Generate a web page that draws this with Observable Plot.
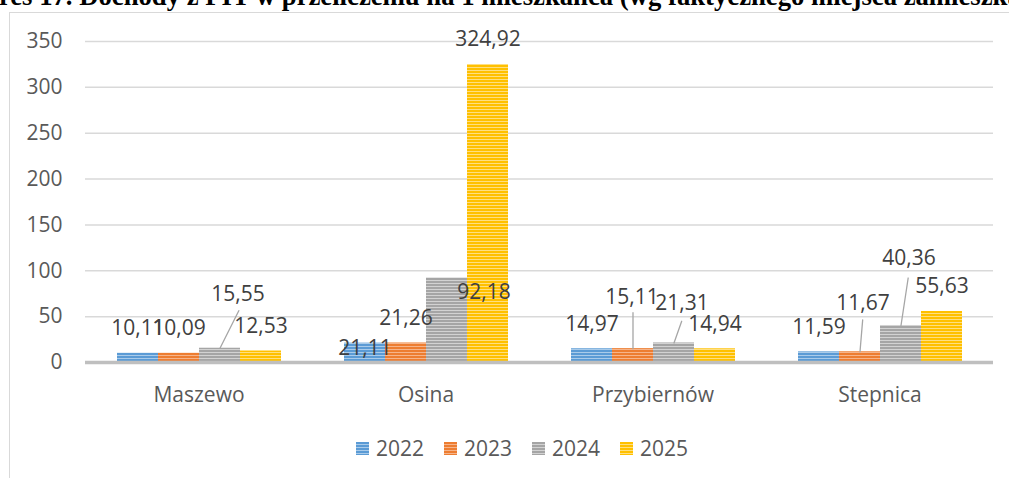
<!DOCTYPE html>
<html>
<head>
<meta charset="utf-8">
<script src="https://cdn.jsdelivr.net/npm/d3@7"></script>
<script src="https://cdn.jsdelivr.net/npm/@observablehq/plot@0.6"></script>
<style>
  html, body { margin: 0; padding: 0; background: #fff; }
  body { position: relative; width: 1009px; height: 478px; overflow: hidden; font-family: "Open Sans", sans-serif; }
  #titleClip { position: absolute; left: 0; top: 0; width: 1009px; height: 12px; overflow: hidden; }
  #title { position: absolute; left: -55px; top: -17px; line-height: 26px; white-space: nowrap;
           font-family: "Liberation Serif", serif; font-weight: bold; font-size: 26.7px; color: #000; }
  #frame { position: absolute; left: 9px; top: 12px; width: 1100px; height: 600px; border: 1.5px solid #d9d9d9; box-sizing: border-box; }
  #chart { position: absolute; left: 0; top: 14px; }
  #legend { position: absolute; left: 356px; top: 434px; display: flex; align-items: center; font-size: 21px; color: #595959; }
  .item { display: flex; align-items: center; margin-right: 20px; }
  .sw { width: 13px; height: 13px; margin-right: 7px; }
</style>
</head>
<body>
<svg width="0" height="0" style="position:absolute">
  <defs>
    <pattern id="p2022" width="4" height="3" patternUnits="userSpaceOnUse"><rect width="4" height="3" fill="#5b9bd5"/><rect y="2" width="4" height="1" fill="#a9cbea"/></pattern>
    <pattern id="p2023" width="4" height="3" patternUnits="userSpaceOnUse"><rect width="4" height="3" fill="#ed7d31"/><rect y="2" width="4" height="1" fill="#f6b48a"/></pattern>
    <pattern id="p2024" width="4" height="3" patternUnits="userSpaceOnUse"><rect width="4" height="3" fill="#a5a5a5"/><rect y="2" width="4" height="1" fill="#d2d2d2"/></pattern>
    <pattern id="p2025" width="4" height="3" patternUnits="userSpaceOnUse"><rect width="4" height="3" fill="#ffc000"/><rect y="2" width="4" height="1" fill="#ffdf80"/></pattern>
  </defs>
</svg>
<div id="titleClip"><div id="title">Wykres 17. Dochody z PIT w przeliczeniu na 1 mieszkańca (wg faktycznego miejsca zamieszkania)</div></div>
<div id="frame"></div>
<div id="chart"></div>
<div id="legend"></div>
<script>
// ---- data ----
const categories = ["Maszewo", "Osina", "Przybiernów", "Stepnica"];
const years = ["2022", "2023", "2024", "2025"];
const v2022 = [10.11, 21.11, 14.97, 11.59];
const v2023 = [10.09, 21.26, 15.11, 11.67];
const v2024 = [15.55, 92.18, 21.31, 40.36];
const v2025 = [12.53, 324.92, 14.94, 55.63];
const yTicks = [0, 50, 100, 150, 200, 250, 300, 350];

// ---- build table ----
const series = {"2022": v2022, "2023": v2023, "2024": v2024, "2025": v2025};
const rows = [];
categories.forEach((c, i) => years.forEach(y => rows.push({cat: c, year: y, value: series[y][i]})));

const baseColors = {"2022": "#5b9bd5", "2023": "#ed7d31", "2024": "#a5a5a5", "2025": "#ffc000"};
const lightColors = {"2022": "#a9cbea", "2023": "#f6b48a", "2024": "#d2d2d2", "2025": "#ffdf80"};

// label placement (manual Excel-like positioning), pixels
const labelNudge = {
  "Maszewo 2024": [18, -54],
  "Osina 2022": [0, 5],
  "Osina 2024": [37, 14],
  "Przybiernów 2023": [-1, -51],
  "Przybiernów 2024": [8, -40],
  "Stepnica 2023": [3, -49],
  "Stepnica 2024": [8, -67]
};
const leaders = {
  "Maszewo 2024": [42, 26.6],
  "Przybiernów 2023": [36, 0],
  "Przybiernów 2024": [23, 19.5],
  "Stepnica 2023": [32, 4.8],
  "Stepnica 2024": [48, 8.6]
};
const fmt = v => v.toFixed(2).replace(".", ",");

const marks = [
  Plot.ruleY(yTicks.filter(d => d > 0), {stroke: "#d9d9d9", strokeWidth: 1.5}),
  Plot.barY(rows, {fx: "cat", x: "year", y: "value", fill: "year"}),
  Plot.ruleY([0], {stroke: "#bfbfbf", strokeWidth: 3.5})
];
rows.forEach(r => {
  const key = r.cat + " " + r.year;
  const [dx, dy] = labelNudge[key] || [0, -25];
  if (leaders[key]) {
    const [len, rot] = leaders[key];
    marks.push(Plot.vector([r], {fx: "cat", x: "year", y: "value", length: len, rotate: rot,
      anchor: "start", shape: "spike", r: 0, stroke: "#a6a6a6", strokeWidth: 1.3, fill: "none"}));
  }
  marks.push(Plot.text([r], {fx: "cat", x: "year", y: "value", text: d => fmt(d.value),
    dx, dy, fill: "#404040", fontSize: 21, lineAnchor: "middle"}));
});

const chart = Plot.plot({
  width: 1009,
  height: 400,
  marginTop: 27,
  marginBottom: 52,
  marginLeft: 85,
  marginRight: 16,
  style: {fontFamily: "'Open Sans', sans-serif", fontSize: "21px", color: "#595959", background: "transparent", overflow: "visible"},
  fx: {domain: categories, padding: 0, label: null, axis: "bottom", tickSize: 0, tickPadding: 25},
  x: {domain: years, paddingInner: 0, paddingOuter: 0.735, axis: null},
  y: {domain: [0, 350], ticks: yTicks, tickSize: 0, tickPadding: 23, label: null, tickFormat: d => String(d)},
  color: {domain: years, range: years.map(y => `url(#p${y})`)},
  marks
});
document.getElementById("chart").appendChild(chart);

// legend
const legend = document.getElementById("legend");
years.forEach(y => {
  const item = document.createElement("div");
  item.className = "item";
  const sw = document.createElement("div");
  sw.className = "sw";
  sw.style.background = `repeating-linear-gradient(to bottom, ${baseColors[y]} 0 2px, ${lightColors[y]} 2px 3px)`;
  const t = document.createElement("span");
  t.textContent = y;
  item.appendChild(sw); item.appendChild(t);
  legend.appendChild(item);
});
</script>
</body>
</html>
